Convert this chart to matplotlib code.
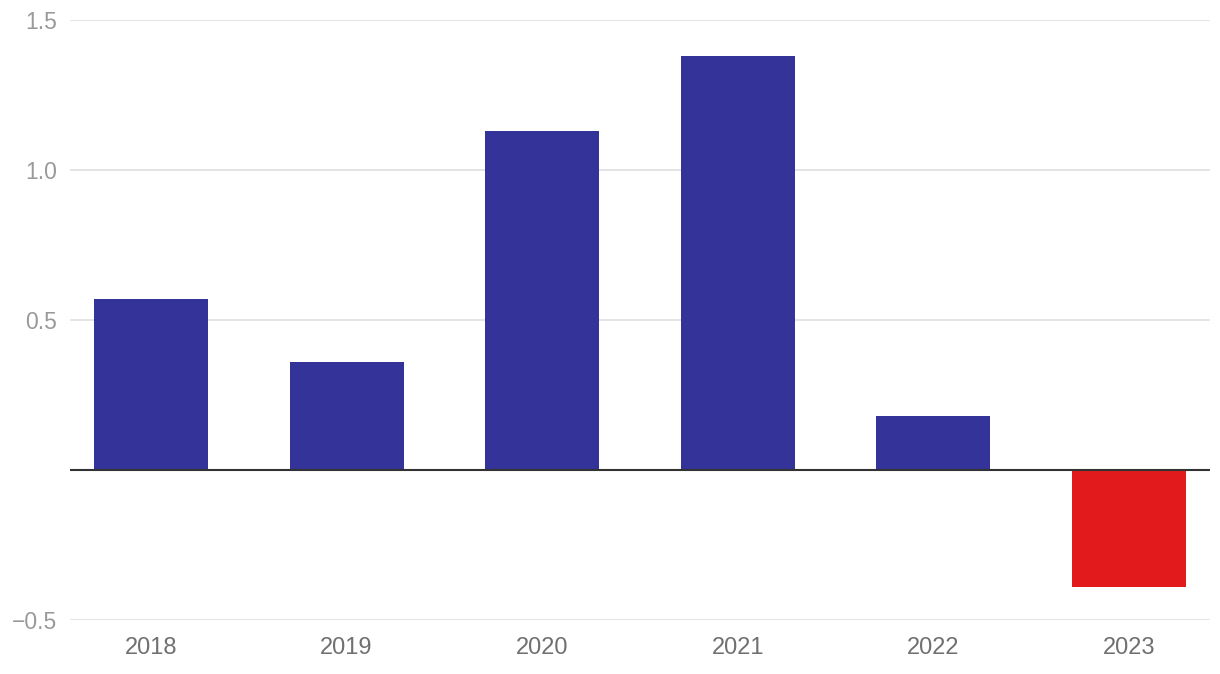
import matplotlib
matplotlib.use("Agg")
import matplotlib.pyplot as plt

years = ["2018", "2019", "2020", "2021", "2022", "2023"]
values = [0.57, 0.36, 1.13, 1.38, 0.18, -0.39]
yticks = [-0.5, 0.5, 1.0, 1.5]
ytick_labels = ["\u22120.5", "0.5", "1.0", "1.5"]

plt.rcParams['font.family'] = ['Liberation Sans', 'DejaVu Sans']

fig = plt.figure(figsize=(12.2, 6.74), dpi=100)
ax = fig.add_axes([70/1220, 54/674, 1140/1220, 600/674])

colors = ["#333399" if v >= 0 else "#e31a1c" for v in values]
x = list(range(len(years)))
ax.bar(x, values, width=0.583, color=colors, zorder=3)

ax.set_xlim(-0.414, 5.414)
ax.set_ylim(-0.5, 1.5)
ax.set_yticks(yticks)
ax.set_yticklabels(ytick_labels)
ax.set_xticks(x)
ax.set_xticklabels(years)

ax.grid(axis='y', color='#e2e2e2', linewidth=1.3, zorder=0)
ax.axhline(0, color='#333333', linewidth=1.5, zorder=4)

for s in ax.spines.values():
    s.set_visible(False)
ax.tick_params(axis='y', length=0, pad=9, labelsize=16.5, labelcolor='#999999')
ax.tick_params(axis='x', length=0, pad=12, labelsize=17, labelcolor='#707070')

fig.savefig("out.png", dpi=100)
